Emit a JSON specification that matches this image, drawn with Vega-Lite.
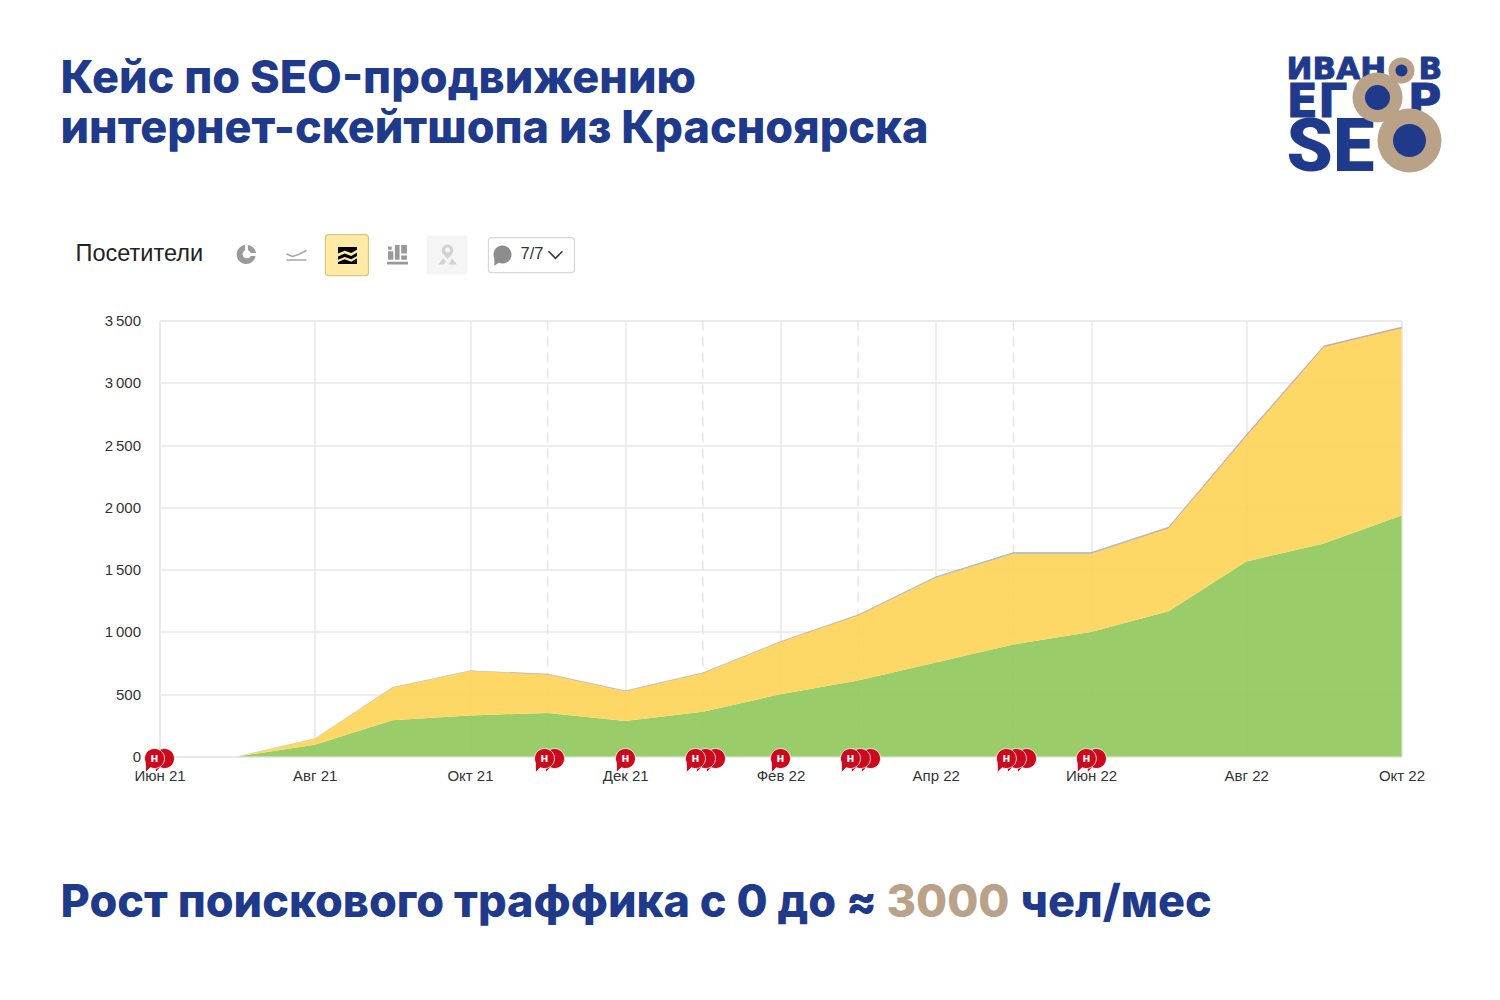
{
"$schema":"https://vega.github.io/schema/vega-lite/v6.json",
"width":1242,"height":436,"autosize":"none",
"padding":{"left":159.5,"top":320.5,"right":98.5,"bottom":243.5},
"background":"#ffffff",
"title":{"text":["Кейс по SEO-продвижению","интернет-скейтшопа из Красноярска"],"anchor":"start","frame":"group","dx":-99,"offset":-98,"font":"Inter","fontSize":45,"fontWeight":800,"color":"#1F3A8A","lineHeight":50},
"datasets":{
"traffic":[
{"m":0,"s":"Поиск","v":0},{"m":1,"s":"Поиск","v":0},{"m":2,"s":"Поиск","v":95},{"m":3,"s":"Поиск","v":290},{"m":4,"s":"Поиск","v":330},{"m":5,"s":"Поиск","v":350},{"m":6,"s":"Поиск","v":285},{"m":7,"s":"Поиск","v":360},{"m":8,"s":"Поиск","v":500},{"m":9,"s":"Поиск","v":610},{"m":10,"s":"Поиск","v":755},{"m":11,"s":"Поиск","v":900},{"m":12,"s":"Поиск","v":1000},{"m":13,"s":"Поиск","v":1165},{"m":14,"s":"Поиск","v":1565},{"m":15,"s":"Поиск","v":1710},{"m":16,"s":"Поиск","v":1935},
{"m":0,"s":"Прямые","v":0},{"m":1,"s":"Прямые","v":0},{"m":2,"s":"Прямые","v":47},{"m":3,"s":"Прямые","v":262},{"m":4,"s":"Прямые","v":356},{"m":5,"s":"Прямые","v":309},{"m":6,"s":"Прямые","v":238},{"m":7,"s":"Прямые","v":309},{"m":8,"s":"Прямые","v":419},{"m":9,"s":"Прямые","v":522},{"m":10,"s":"Прямые","v":680},{"m":11,"s":"Прямые","v":728},{"m":12,"s":"Прямые","v":628},{"m":13,"s":"Прямые","v":668},{"m":14,"s":"Прямые","v":1006},{"m":15,"s":"Прямые","v":1577},{"m":16,"s":"Прямые","v":1502},
{"m":0,"s":"Реклама","v":0},{"m":1,"s":"Реклама","v":0},{"m":2,"s":"Реклама","v":1},{"m":3,"s":"Реклама","v":1},{"m":4,"s":"Реклама","v":1},{"m":5,"s":"Реклама","v":2},{"m":6,"s":"Реклама","v":3},{"m":7,"s":"Реклама","v":2},{"m":8,"s":"Реклама","v":2},{"m":9,"s":"Реклама","v":3},{"m":10,"s":"Реклама","v":2},{"m":11,"s":"Реклама","v":2},{"m":12,"s":"Реклама","v":2},{"m":13,"s":"Реклама","v":6},{"m":14,"s":"Реклама","v":5},{"m":15,"s":"Реклама","v":5},{"m":16,"s":"Реклама","v":5},
{"m":0,"s":"Соцсети","v":0},{"m":1,"s":"Соцсети","v":0},{"m":2,"s":"Соцсети","v":1},{"m":3,"s":"Соцсети","v":1},{"m":4,"s":"Соцсети","v":1},{"m":5,"s":"Соцсети","v":2},{"m":6,"s":"Соцсети","v":2},{"m":7,"s":"Соцсети","v":2},{"m":8,"s":"Соцсети","v":2},{"m":9,"s":"Соцсети","v":2},{"m":10,"s":"Соцсети","v":2},{"m":11,"s":"Соцсети","v":2},{"m":12,"s":"Соцсети","v":2},{"m":13,"s":"Соцсети","v":3},{"m":14,"s":"Соцсети","v":6},{"m":15,"s":"Соцсети","v":5},{"m":16,"s":"Соцсети","v":5},
{"m":0,"s":"Ссылки","v":0},{"m":1,"s":"Ссылки","v":0},{"m":2,"s":"Ссылки","v":1},{"m":3,"s":"Ссылки","v":1},{"m":4,"s":"Ссылки","v":2},{"m":5,"s":"Ссылки","v":2},{"m":6,"s":"Ссылки","v":2},{"m":7,"s":"Ссылки","v":2},{"m":8,"s":"Ссылки","v":2},{"m":9,"s":"Ссылки","v":3},{"m":10,"s":"Ссылки","v":6},{"m":11,"s":"Ссылки","v":8},{"m":12,"s":"Ссылки","v":8},{"m":13,"s":"Ссылки","v":3},{"m":14,"s":"Ссылки","v":3},{"m":15,"s":"Ссылки","v":3},{"m":16,"s":"Ссылки","v":3}
],
"notes":[
{"pos":0.064,"front":false},{"pos":-0.064,"front":true},
{"pos":5.09,"front":false},{"pos":4.96,"front":true},
{"pos":6.003,"front":true},
{"pos":7.163,"front":false},{"pos":7.034,"front":false},{"pos":6.905,"front":true},
{"pos":8.0,"front":true},
{"pos":9.16,"front":false},{"pos":9.03,"front":false},{"pos":8.902,"front":true},
{"pos":11.17,"front":false},{"pos":11.04,"front":false},{"pos":10.91,"front":true},
{"pos":12.07,"front":false},{"pos":11.94,"front":true}
],
"one":[{}]
},
"layer":[
{"data":{"values":[{"m":5},{"m":7},{"m":9},{"m":11}]},
 "mark":{"type":"rule","color":"#e6e6e6","strokeWidth":1.5,"strokeDash":[10,6]},
 "encoding":{"x":{"field":"m","type":"quantitative","scale":{"domain":[0,16],"nice":false,"zero":false,"clamp":false},
   "axis":{"values":[0,2,4,6,8,10,12,14,16],"title":null,"grid":true,"gridColor":"#e8e8e8","gridWidth":1.5,"ticks":false,"domain":false,"labelFont":"Liberation Sans","labelFontSize":15,"labelColor":"#333333","labelPadding":11.5,"labelOverlap":false,"labelFlush":false,
   "labelExpr":"['Июн 21','','Авг 21','','Окт 21','','Дек 21','','Фев 22','','Апр 22','','Июн 22','','Авг 22','','Окт 22'][datum.value]"}}}},
{"data":{"name":"traffic"},
 "mark":{"type":"area","fillOpacity":0.9,"interpolate":"linear"},
 "encoding":{
  "x":{"field":"m","type":"quantitative"},
  "y":{"field":"v","type":"quantitative","stack":"zero","scale":{"domain":[0,3500],"nice":false,"clamp":false},
   "axis":{"values":[0,500,1000,1500,2000,2500,3000,3500],"title":null,"grid":true,"gridColor":"#e8e8e8","gridWidth":1.5,"ticks":false,"domain":false,"labelFont":"Liberation Sans","labelFontSize":15,"labelColor":"#333333","labelPadding":19,
   "labelExpr":"replace(format(datum.value,','),',','\u2009')"}},
  "color":{"field":"s","type":"nominal","legend":null,"scale":{"domain":["Поиск","Прямые","Реклама","Соцсети","Ссылки"],"range":["#8FC659","#FDD455","#E8703A","#A98BB8","#7FB0B8"]}},
  "order":{"field":"s","type":"nominal","sort":"ascending"}
 }},
{"data":{"name":"notes"},
 "mark":{"type":"point","filled":true,"fill":"#CC0A1E","stroke":"#ffffff","strokeWidth":1,"strokeOpacity":0.8,"opacity":1,"size":400,"shape":"M-0.91,0.42 A1,1 0 1,1 -0.42,0.91 L-0.9,1.4 Z"},
 "encoding":{"x":{"field":"pos","type":"quantitative"},"y":{"datum":-16}}},
{"data":{"name":"notes"},"transform":[{"filter":"datum.front"}],
 "mark":{"type":"text","text":"н","font":"Liberation Sans","fontWeight":"bold","fontSize":13,"fill":"#ffffff","align":"center","baseline":"middle"},
 "encoding":{"x":{"field":"pos","type":"quantitative"},"y":{"datum":-16}}},

{"data":{"name":"one"},"mark":{"type":"text","text":"Рост поискового траффика с 0 до ≈","font":"Inter","fontWeight":800,"fontSize":45,"fill":"#1F3A8A","align":"left","baseline":"alphabetic"},"encoding":{"x":{"datum":-1.275},"y":{"datum":-1292}}},
{"data":{"name":"one"},"mark":{"type":"text","text":"3000","font":"Inter","fontWeight":800,"fontSize":45,"fill":"#B9A287","align":"left","baseline":"alphabetic"},"encoding":{"x":{"datum":9.365},"y":{"datum":-1292}}},
{"data":{"name":"one"},"mark":{"type":"text","text":"чел/мес","font":"Inter","fontWeight":800,"fontSize":45,"fill":"#1F3A8A","align":"left","baseline":"alphabetic"},"encoding":{"x":{"datum":11.092},"y":{"datum":-1292}}},

{"data":{"name":"one"},"mark":{"type":"text","text":"Посетители","font":"Liberation Sans","fontSize":23.5,"fill":"#222222","align":"left","baseline":"middle"},"encoding":{"x":{"datum":-1.082},"y":{"datum":4030}}},
{"data":{"name":"one"},"mark":{"type":"point","filled":true,"fill":"#9a9a9a","strokeWidth":0,"opacity":1,"size":361,"shape":"M0.15,-1 A1,1 0 0,1 1,-0.15 L0.45,-0.15 A0.45,0.45 0 0,0 0.15,-0.45 Z M0.95,0.15 A1,1 0 1,1 -0.15,-1 L-0.15,-0.45 A0.45,0.45 0 1,0 0.45,0.15 Z"},"encoding":{"x":{"datum":1.121},"y":{"datum":4030}}},
{"data":{"name":"one"},"mark":{"type":"point","filled":false,"stroke":"#a8a8a8","strokeWidth":1.6,"opacity":1,"size":400,"shape":"M-1,-0.05 L-0.4,0.2 L0.2,0 L1,-0.4 M-1,0.55 L1,0.55"},"encoding":{"x":{"datum":1.765},"y":{"datum":4030}}},
{"data":{"name":"one"},"mark":{"type":"rect","fill":"#FFEBA6","stroke":"#DCC57E","strokeWidth":1.2,"cornerRadius":3},"encoding":{"x":{"datum":2.138},"x2":{"datum":2.692},"y":{"datum":4190},"y2":{"datum":3861}}},
{"data":{"name":"one"},"mark":{"type":"point","filled":true,"fill":"#000000","strokeWidth":0,"opacity":1,"size":361,"shape":"M-1,-0.9 L1,-0.9 L1,-0.6 L0.4,-0.25 L-0.3,-0.5 L-1,-0.2 Z M-1,0.1 L-0.3,-0.2 L0.4,0.05 L1,-0.3 L1,0.05 L0.4,0.4 L-0.3,0.15 L-1,0.45 Z M-1,0.7 L-0.3,0.4 L0.4,0.65 L1,0.3 L1,0.9 L-1,0.9 Z"},"encoding":{"x":{"datum":2.422},"y":{"datum":4022}}},
{"data":{"name":"one"},"mark":{"type":"point","filled":true,"fill":"#999999","strokeWidth":0,"opacity":1,"size":441,"shape":"M-0.9,-0.75 L-0.55,-0.75 L-0.55,-0.45 L-0.9,-0.45 Z M-0.9,-0.3 L-0.4,-0.3 L-0.4,0.5 L-0.9,0.5 Z M-0.25,-0.9 L0.2,-0.9 L0.2,0.5 L-0.25,0.5 Z M0.35,-0.9 L0.9,-0.9 L0.9,-0.1 L0.35,-0.1 Z M0.35,0.1 L0.9,0.1 L0.9,0.5 L0.35,0.5 Z M-1,0.7 L1,0.7 L1,0.95 L-1,0.95 Z"},"encoding":{"x":{"datum":3.066},"y":{"datum":4030}}},
{"data":{"name":"one"},"mark":{"type":"rect","fill":"#F5F5F5","cornerRadius":2},"encoding":{"x":{"datum":3.44},"x2":{"datum":3.968},"y":{"datum":4182},"y2":{"datum":3869}}},
{"data":{"name":"one"},"mark":{"type":"point","filled":true,"fill":"#D2D2D2","strokeWidth":0,"opacity":1,"size":400,"shape":"M0,-1 A0.6,0.6 0 0,1 0.5,-0.1 L0,0.45 L-0.5,-0.1 A0.6,0.6 0 0,1 0,-1 Z M0,-0.7 A0.25,0.25 0 1,0 0.01,-0.7 Z M-0.9,1 L-0.45,0.35 L-0.15,0.7 L-0.4,1 Z M0.1,1 L0.45,0.4 L0.95,1 Z"},"encoding":{"x":{"datum":3.71},"y":{"datum":4030}}},
{"data":{"name":"one"},"mark":{"type":"rect","fill":"#ffffff","stroke":"#D8D8D8","strokeWidth":1.3,"cornerRadius":3},"encoding":{"x":{"datum":4.238},"x2":{"datum":5.346},"y":{"datum":4166},"y2":{"datum":3885}}},
{"data":{"name":"one"},"mark":{"type":"point","filled":true,"fill":"#8c8c8c","strokeWidth":0,"opacity":1,"size":324,"shape":"M-0.91,0.42 A1,1 0 1,1 -0.42,0.91 L-0.9,1.25 Z"},"encoding":{"x":{"datum":4.419},"y":{"datum":4030}}},
{"data":{"name":"one"},"mark":{"type":"text","text":"7/7","font":"Liberation Sans","fontSize":16.5,"fill":"#333333","align":"left","baseline":"middle"},"encoding":{"x":{"datum":4.651},"y":{"datum":4035}}},
{"data":{"name":"one"},"mark":{"type":"point","filled":false,"stroke":"#333333","strokeWidth":1.5,"opacity":1,"size":196,"shape":"M-1,-0.45 L0,0.55 L1,-0.45"},"encoding":{"x":{"datum":5.101},"y":{"datum":4030}}},

{"data":{"name":"one"},"mark":{"type":"text","text":"ИВАН","font":"DejaVu Sans","fontWeight":"bold","fontSize":31,"stroke":"#1F3A8A","strokeWidth":1,"fill":"#1F3A8A","align":"left","baseline":"alphabetic"},"encoding":{"x":{"datum":14.52},"y":{"datum":5435}}},
{"data":{"name":"one"},"mark":{"type":"text","text":"В","font":"DejaVu Sans","fontWeight":"bold","fontSize":31,"stroke":"#1F3A8A","strokeWidth":1,"fill":"#1F3A8A","align":"left","baseline":"alphabetic"},"encoding":{"x":{"datum":16.22},"y":{"datum":5435}}},
{"data":{"name":"one"},"mark":{"type":"text","text":"ЕГ","font":"DejaVu Sans","fontWeight":"bold","fontSize":46,"stroke":"#1F3A8A","strokeWidth":1,"fill":"#1F3A8A","align":"left","baseline":"alphabetic"},"encoding":{"x":{"datum":14.52},"y":{"datum":5130}}},
{"data":{"name":"one"},"mark":{"type":"text","text":"Р","font":"DejaVu Sans","fontWeight":"bold","fontSize":46,"stroke":"#1F3A8A","strokeWidth":1,"fill":"#1F3A8A","align":"left","baseline":"alphabetic"},"encoding":{"x":{"datum":16.08},"y":{"datum":5130}}},
{"data":{"name":"one"},"mark":{"type":"text","text":"SE","font":"Roboto","fontWeight":900,"fontSize":74,"fill":"#1F3A8A","align":"left","baseline":"alphabetic"},"encoding":{"x":{"datum":14.52},"y":{"datum":4704}}},
{"data":{"name":"one"},"mark":{"type":"point","shape":"circle","filled":true,"fill":"#B9A287","strokeWidth":0,"opacity":1,"size":676},"encoding":{"x":{"datum":16.0},"y":{"datum":5507}}},
{"data":{"name":"one"},"mark":{"type":"point","shape":"circle","filled":true,"fill":"#1F3A8A","strokeWidth":0,"opacity":1,"size":144},"encoding":{"x":{"datum":16.0},"y":{"datum":5507}}},
{"data":{"name":"one"},"mark":{"type":"point","shape":"circle","filled":true,"fill":"#B9A287","strokeWidth":0,"opacity":1,"size":2500},"encoding":{"x":{"datum":15.691},"y":{"datum":5290}}},
{"data":{"name":"one"},"mark":{"type":"point","shape":"circle","filled":true,"fill":"#1F3A8A","strokeWidth":0,"opacity":1,"size":625},"encoding":{"x":{"datum":15.691},"y":{"datum":5290}}},
{"data":{"name":"one"},"mark":{"type":"point","shape":"circle","filled":true,"fill":"#B9A287","strokeWidth":0,"opacity":1,"size":4096},"encoding":{"x":{"datum":16.103},"y":{"datum":4945}}},
{"data":{"name":"one"},"mark":{"type":"point","shape":"circle","filled":true,"fill":"#1F3A8A","strokeWidth":0,"opacity":1,"size":1089},"encoding":{"x":{"datum":16.103},"y":{"datum":4945}}}
]
}
